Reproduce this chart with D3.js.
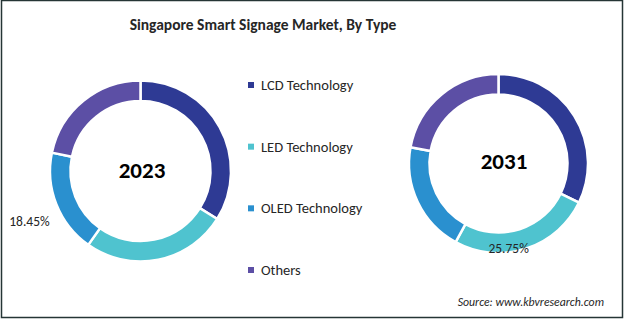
<!DOCTYPE html>
<html>
<head>
<meta charset="utf-8">
<script src="https://cdn.jsdelivr.net/npm/d3@7"></script>
<style>
  body { margin: 0; background: #fff; }
  svg text { font-family: Carlito, "Liberation Sans Narrow", "Noto Sans", sans-serif; }
</style>
</head>
<body>
<div class="visHolder"></div>
<script>
const width = 625;
const height = 321;

// shares by type, starting at 12 o'clock and going clockwise
const categories = ["LCD Technology", "LED Technology", "OLED Technology", "Others"];
const colors = ["#2e3a94", "#4fc3cf", "#2a90cf", "#5c4fa5"];
const years = ["2023", "2031"];
const share2023 = [33.9, 25.9, 18.45, 21.75];
const share2031 = [32.2, 25.75, 19.95, 22.1];
// which slice gets its value written next to it
const labelled = [2, 1];

const svg = d3.select(".visHolder")
  .append("svg")
  .attr("width", width)
  .attr("height", height);

svg.append("rect")
  .attr("x", 1.5).attr("y", 0.5)
  .attr("width", 621).attr("height", 317)
  .attr("fill", "#fff")
  .attr("stroke", "#253535")
  .attr("stroke-width", 1.5);

svg.append("text")
  .attr("x", 263)
  .attr("y", 30)
  .attr("text-anchor", "middle")
  .attr("font-weight", "bold")
  .attr("font-size", 15.5)
  .attr("fill", "#262626")
  .text("Singapore Smart Signage Market, By Type");

const pie = d3.pie().sort(null).value(d => d);

const donuts = [
  { year: years[0], values: share2023, cx: 140.5, cy: 171, r: 90.5, labelR: 122, shift: -3, textX: 142, textY: 170 },
  { year: years[1], values: share2031, cx: 498.5, cy: 163.5, r: 89.5, labelR: 86, shift: 11, textX: 504, textY: 160.5 }
];

donuts.forEach((dn, k) => {
  const arc = d3.arc().innerRadius(dn.r - 20.5).outerRadius(dn.r);
  const g = svg.append("g").attr("transform", `translate(${dn.cx},${dn.cy})`);
  const slices = pie(dn.values);

  g.selectAll("path")
    .data(slices)
    .enter()
    .append("path")
    .attr("d", arc)
    .attr("fill", (d, i) => colors[i])
    .attr("stroke", "#fff")
    .attr("stroke-width", 2.5);

  g.append("text")
    .attr("x", dn.textX - dn.cx)
    .attr("y", dn.textY - dn.cy)
    .attr("text-anchor", "middle")
    .attr("dominant-baseline", "central")
    .attr("font-weight", "bold")
    .attr("font-size", 23)
    .attr("fill", "#000")
    .text(dn.year);

  const s = slices[labelled[k]];
  const a = (s.startAngle + s.endAngle) / 2 + dn.shift * Math.PI / 180;
  g.append("text")
    .attr("x", dn.labelR * Math.sin(a))
    .attr("y", -dn.labelR * Math.cos(a))
    .attr("text-anchor", "middle")
    .attr("dominant-baseline", "central")
    .attr("font-size", 13.5)
    .attr("fill", "#262626")
    .text(dn.values[labelled[k]].toFixed(2) + "%");
});

// legend between the two rings
const legendY = d3.scalePoint().domain(categories).range([85, 270]);
const legend = svg.append("g")
  .selectAll("g")
  .data(categories)
  .enter()
  .append("g")
  .attr("transform", d => `translate(248,${legendY(d)})`);

legend.append("rect")
  .attr("x", 0).attr("y", -3)
  .attr("width", 6).attr("height", 6)
  .attr("fill", (d, i) => colors[i]);

legend.append("text")
  .attr("x", 13)
  .attr("y", 0)
  .attr("dominant-baseline", "central")
  .attr("font-size", 14.5)
  .attr("fill", "#262626")
  .text(d => d);

svg.append("text")
  .attr("x", 604)
  .attr("y", 302)
  .attr("text-anchor", "end")
  .attr("dominant-baseline", "central")
  .attr("font-style", "italic")
  .attr("font-size", 11.8)
  .attr("fill", "#262626")
  .text("Source: www.kbvresearch.com");
</script>
</body>
</html>
